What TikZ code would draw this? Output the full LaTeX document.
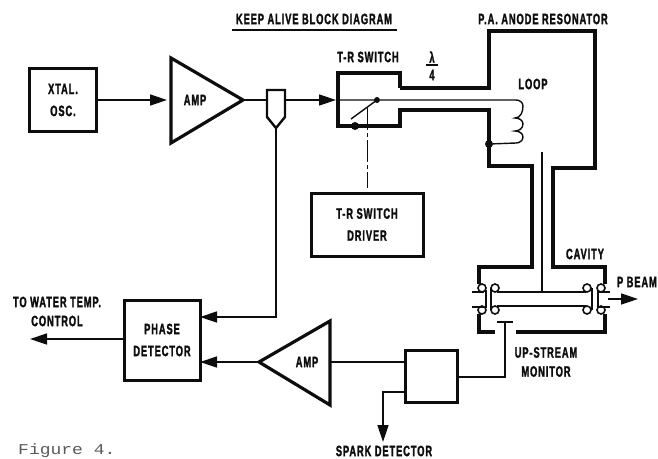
\documentclass[tikz,border=0pt]{standalone}
\usepackage{fontspec}
\newfontfamily\labelfont[FakeStretch=0.62,LetterSpace=6,FakeBold=1.6]{Liberation Sans Bold}
\newfontfamily\typefont[FakeStretch=1.2]{Liberation Mono}
\usetikzlibrary{arrows.meta,positioning,calc}
\definecolor{inkBlack}{gray}{0.05}
\begin{document}
\begin{tikzpicture}[x=1pt,y=-1pt,>={Triangle[length=17pt,width=11pt]},color=inkBlack]
\tikzstyle{lbl}=[inner sep=0pt, align=center, font=\labelfont\fontsize{15}{19}\selectfont]
\tikzstyle{block}=[draw, line width=3pt, inner sep=0pt, outer sep=0pt, align=center, font=\labelfont\fontsize{15}{22}\selectfont]
\tikzstyle{wall}=[line width=3.2pt, line join=miter]
\tikzstyle{amptri}=[line width=3.2pt, line join=miter]
\tikzstyle{edge}=[->, line width=1.5pt]
\tikzstyle{wire}=[line width=1.4pt]
\tikzstyle{dotn}=[circle, fill, inner sep=0pt, minimum size=8pt]
\useasboundingbox (0,0) rectangle (658,458);
% blocks
\node[block, minimum width=67pt, minimum height=63pt] (xtal) at (63,100) {XTAL.\\OSC.};
\node[block, minimum width=76pt, minimum height=80pt] (phase) at (162,340) {PHASE\\DETECTOR};
\node[block, minimum width=112pt, minimum height=63pt] (driver) at (367,224.5) {T-R SWITCH\\DRIVER};
\node[block, minimum width=52pt, minimum height=52pt] (spark) at (431,376) {};
% amplifiers
\coordinate (amp1in) at (171,100);
\coordinate (amp1out) at (243,100);
\draw[amptri] (171,58) -- (amp1out) -- (171,143) -- cycle;
\node[lbl] (amp1) at (195,100) {AMP};
\coordinate (amp2in) at (330,362);
\coordinate (amp2out) at (259,362);
\draw[amptri] (330,321) -- (amp2out) -- (330,405) -- cycle;
\node[lbl] (amp2) at (307,362) {AMP};
% pick-off
\coordinate (pickl) at (267,100);
\coordinate (pickr) at (285,100);
\coordinate (picktip) at (276,128);
\draw[line width=2.4pt, line join=miter] (267,90) -- (285,90) -- (285,117) -- (picktip) -- (267,117) -- cycle;
% main signal path
\coordinate (trin) at (338,100);
\coordinate (swhub) at (377,100);
\coordinate (swarm) at (351,119);
\coordinate (swfoot) at (355,126);
\coordinate (loopend) at (489,144);
\draw[edge, shorten >=4pt] (xtal) -- (amp1in);
\draw[wire] (amp1out) -- (pickl);
\draw[edge, shorten >=2pt] (pickr) -- (trin);
\draw[wire] (trin) -- (swhub) -- (swarm);
\draw[edge] (picktip) |- (phase.east |- 0,317);
% resonator and T-R switch
\draw[wall] (400,88) -- (400,73) -- (338,73) -- (338,126) -- (400,126) -- (400,110) -- (489,110) -- (489,166) -- (532,166) -- (532,267) -- (479,267) -- (479,284);
\draw[wall] (400,88) -- (489,88) -- (489,31) -- (595,31) -- (595,168) -- (553,168) -- (553,267) -- (605,267) -- (605,284);
\draw[wall] (479,314) -- (479,332) -- (495,332);
\draw[wall] (516,332) -- (605,332) -- (605,314);
\node[dotn] (footdot) at (swfoot) {};
\node[dotn, minimum size=6pt] (hubdot) at (swhub) {};
\node[dotn] (loopdot) at (loopend) {};
% loop
\draw[wire] (hubdot) -- (516,100) to[out=0,in=90] (523,106) to[out=-90,in=0] (515,118) to[out=0,in=90] (523,124) to[out=-90,in=0] (515,131) to[out=0,in=90] (523,137) to[out=-90,in=0] (516,143) -- (loopdot);
% beam tube
\draw[wire] (542,152) -- (542,292);
\draw[line width=1.6pt] (472,292) -- (484,292) (472,307) -- (484,307);
\draw[line width=1.6pt] (497,292) -- (586,292) (497,306) -- (586,306);
\draw[line width=1.6pt] (599,292) -- (610,292) (599,307) -- (610,307);
\draw[line width=1.4pt] (491,288) -- (491,310) (592,288) -- (592,310) (486,290) -- (486,308) (598,290) -- (598,308);
\foreach \ringx/\ringy in {482/288,482/310,495/288,495/310,587/288,587/310,601/288,601/310}
  \draw[line width=1.6pt] (\ringx,\ringy) circle (4);
% dashed drive, monitor, outputs
\draw[line width=1pt, dash pattern=on 22pt off 3pt on 4pt off 3pt] (367,108) -- (367,188);
\coordinate (mona) at (497,322);
\coordinate (monb) at (513,322);
\coordinate (monc) at (505,322);
\draw[line width=1.8pt] (mona) -- (monb);
\draw[wire] (monc) |- (spark.east |- 0,377);
\draw[wire] (spark.west |- 0,362) -- (amp2in);
\draw[edge] (amp2out) -- (phase.east |- 0,362);
\coordinate (sparkout) at (383,442);
\draw[edge] (spark.west |- 0,392) -| (sparkout);
\coordinate (waterout) at (30,339);
\draw[edge] (phase.west |- waterout) -- (waterout);
\coordinate (beamin) at (608,299);
\coordinate (beamout) at (638,299);
\draw[edge] (beamin) -- (beamout);
% quarter wave mark
\node[lbl] (lambda) at (432,57) {λ};
\node[lbl] (four) at (432,75) {4};
\draw[wire] ($(lambda)+(-6,8)$) -- ($(lambda)+(6,8)$);
% labels
\node[lbl] (title) at (314,19) {KEEP ALIVE BLOCK DIAGRAM};
\draw[line width=1.5pt] (232,30) -- (397,30);
\node[lbl] (trlabel) at (368,57) {T-R SWITCH};
\node[lbl] (anode) at (543,19) {P.A. ANODE RESONATOR};
\node[lbl] (looplabel) at (533,84) {LOOP};
\node[lbl] (cavity) at (585,254) {CAVITY};
\node[lbl, anchor=east] (beamlabel) at (657,282) {P BEAM};
\node[lbl] (monitor) at (546,362) {UP-STREAM\\MONITOR};
\node[lbl] (water) at (57,311.5) {TO WATER TEMP.\\CONTROL};
\node[lbl] (sparklabel) at (384,451) {SPARK DETECTOR};
\node[inner sep=0pt, anchor=base west, text=black!65, font=\typefont\fontsize{15}{18}\selectfont] (figlabel) at (18,454) {Figure 4.};
\end{tikzpicture}
\end{document}
